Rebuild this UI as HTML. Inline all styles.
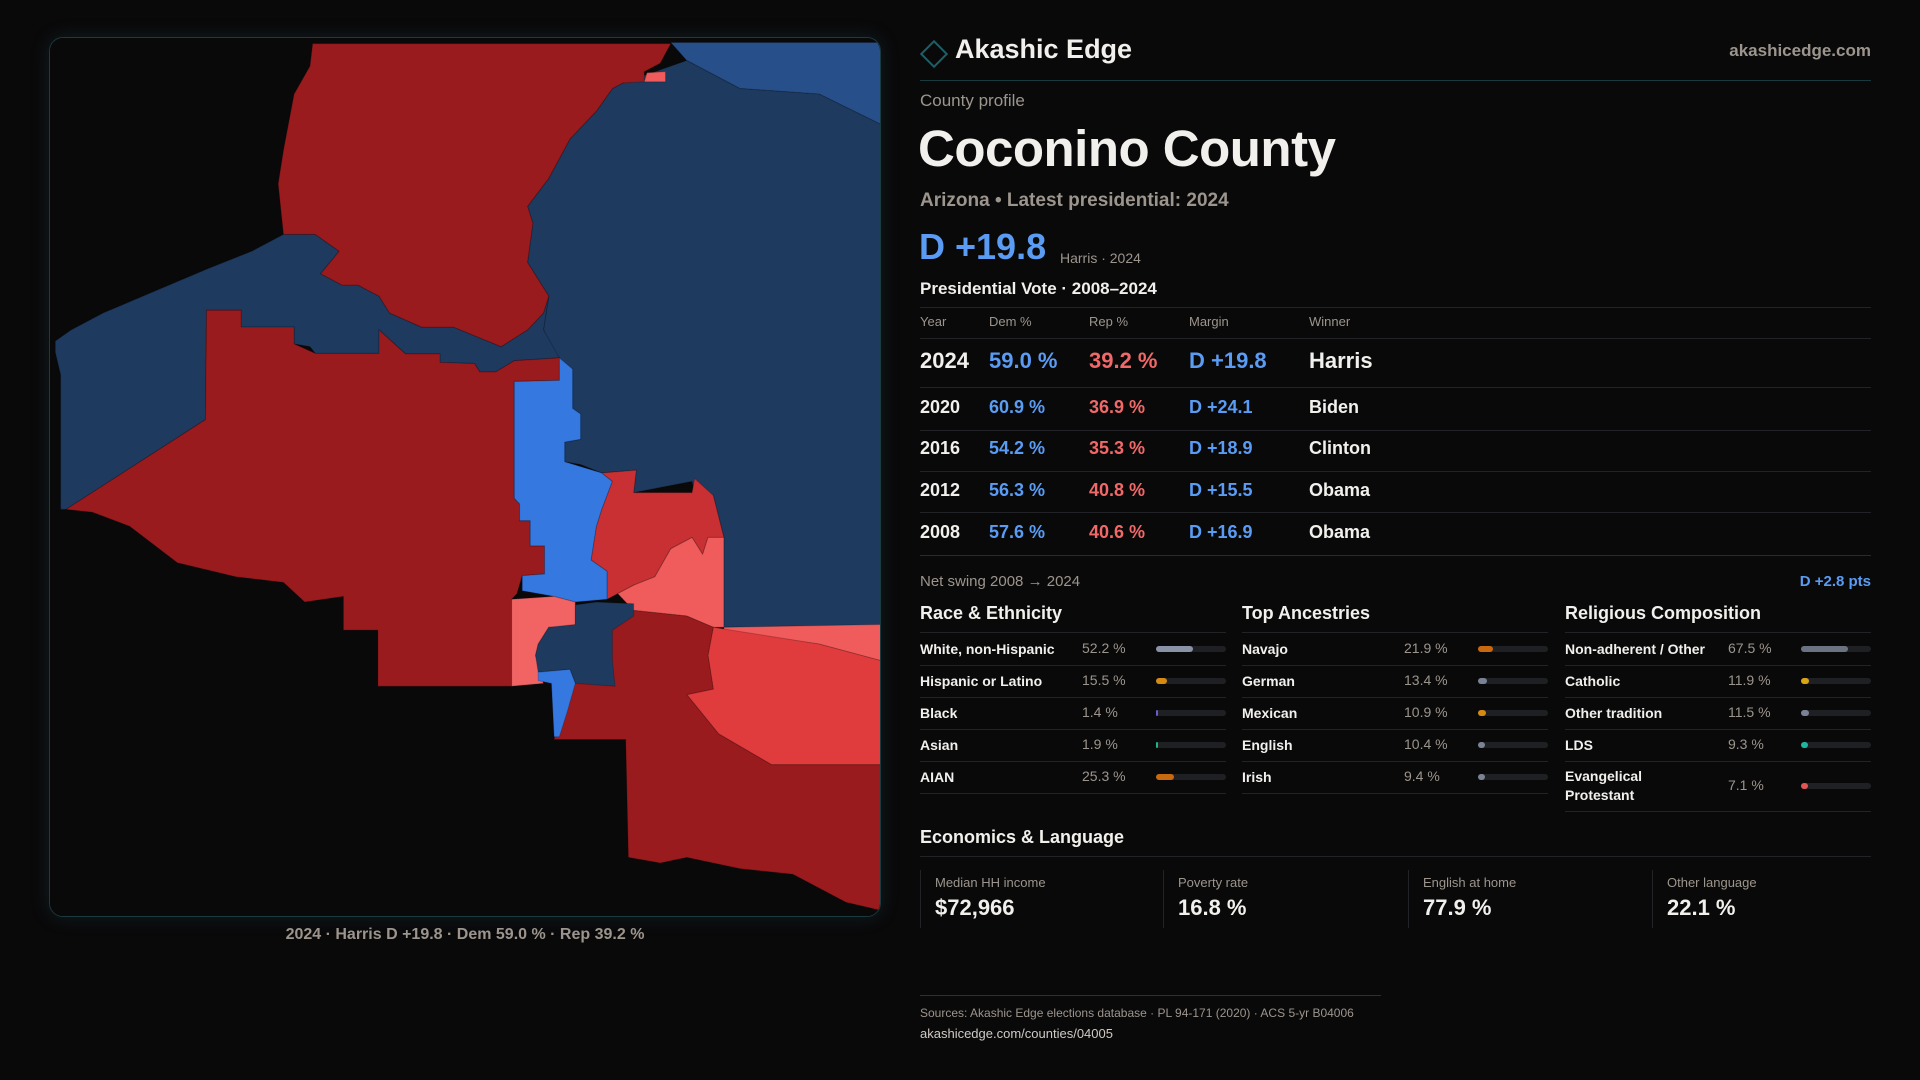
<!DOCTYPE html>
<html><head><meta charset="utf-8">
<style>
*{margin:0;padding:0;box-sizing:border-box}
body{width:1920px;height:1080px;background:#0a090a;font-family:"Liberation Sans",sans-serif;color:#f2f0ec;position:relative;overflow:hidden}
.a{position:absolute;white-space:nowrap}
.mut{color:#9c958d}
.blue{color:#5a9cf4}.red{color:#f06868}
.hl{position:absolute;height:1px;background:#222326}
#map{position:absolute;left:49px;top:37px;width:832px;height:880px;border:1px solid #1c3a40;border-radius:14px;overflow:hidden;box-shadow:0 0 18px rgba(30,90,100,.25)}
.bar{position:absolute;height:6px;border-radius:3px;background:#1f2024}
.fill{position:absolute;left:0;top:0;height:6px;border-radius:3px}
</style></head><body>
<div id="map">
<svg width="832" height="880" viewBox="0 0 1568 1568" preserveAspectRatio="none">
<rect width="1568" height="1568" fill="#0a090a"/>
<g stroke="rgba(0,0,0,0.18)" stroke-width="2">
<polygon fill="#27508a" points="1170,8 1568,8 1568,155 1450,100 1300,90 1200,40"/>
<polygon fill="#1e3a5f" points="1080,80 1200,40 1300,90 1450,100 1568,155 1568,1050 1270,1050 1270,890 1250,815 1215,810 1210,790 1100,810 1105,770 1040,775 1000,760 970,755 970,720 1000,715 1000,670 985,660 985,590 960,580 930,520 940,460 900,400 910,330 900,300 940,250 980,180 1030,130 1060,90"/>
<polygon fill="#1e3a5f" points="10,540 40,520 100,490 200,450 300,410 380,380 440,350 500,350 545,380 510,420 550,440 580,440 620,460 640,490 700,515 760,515 850,550 900,520 930,490 940,460 930,520 960,570 875,575 840,595 810,595 800,580 735,578 735,563 670,563 620,520 620,562 500,562 490,550 460,545 460,515 360,515 360,485 295,485 293,680 30,840 20,840 20,600 10,560"/>
<polygon fill="#9a1b1e" points="495,10 1170,10 1150,45 1120,60 1120,78 1080,80 1060,90 1030,130 980,180 940,250 900,300 910,330 900,400 940,460 930,490 900,520 850,550 760,515 700,515 640,490 620,460 580,440 550,440 510,420 545,380 500,350 440,350 430,260 440,200 460,100 490,50"/>
<polygon fill="#f05c5c" points="1120,78 1125,62 1160,60 1160,78"/>
<polygon fill="#9a1b1e" points="30,840 293,680 295,485 360,485 360,515 460,515 460,545 500,562 620,562 620,520 670,563 735,563 735,578 800,580 810,595 840,595 875,575 960,570 960,610 875,612 875,820 885,830 885,860 905,860 905,905 932,905 932,955 890,958 880,990 870,1000 870,1155 618,1155 618,1055 553,1055 553,995 480,1005 440,970 350,960 240,935 150,870 80,845"/>
<polygon fill="#3478e0" points="875,612 960,610 960,570 985,590 985,660 1000,670 1000,715 970,720 970,755 1040,775 1060,790 1040,840 1030,870 1020,930 1050,950 1050,1000 990,1005 950,995 890,985 890,958 932,955 932,905 905,905 905,860 885,860 885,830 875,820"/>
<polygon fill="#c83034" points="1060,790 1040,775 1105,770 1100,810 1210,810 1215,785 1250,815 1270,890 1240,890 1230,920 1210,890 1170,910 1140,960 1100,975 1070,990 1050,1000 1050,950 1020,930 1030,870 1040,840"/>
<polygon fill="#f05c5c" points="1270,890 1270,1050 1250,1050 1200,1030 1100,1020 1070,990 1100,975 1140,960 1170,910 1210,890 1230,920 1240,890"/>
<polygon fill="#f05c5c" points="1270,1050 1568,1045 1568,1110 1450,1080 1270,1055"/>
<polygon fill="#e03c3e" points="1250,1050 1450,1080 1568,1110 1568,1295 1360,1295 1260,1240 1200,1170 1250,1160 1240,1100"/>
<polygon fill="#f26464" points="870,1000 950,995 990,1005 990,1050 940,1050 920,1080 915,1100 930,1150 870,1155"/>
<polygon fill="#9a1b1e" points="990,1050 1100,1020 1200,1030 1250,1050 1240,1100 1250,1160 1200,1170 1260,1240 1360,1295 1568,1295 1568,1555 1500,1540 1400,1490 1300,1480 1200,1460 1150,1470 1090,1460 1085,1250 950,1250 975,1150 1000,1130"/>
<polygon fill="#1e3a5f" points="990,1010 1030,1005 1100,1008 1100,1030 1060,1055 1060,1110 1065,1155 990,1150 980,1125 920,1130 915,1100 920,1080 940,1050 990,1045"/>
<polygon fill="#3478e0" points="920,1130 980,1125 990,1150 975,1200 960,1245 950,1245 945,1150 920,1145"/>
</g></svg></div>
<div class="a mut" style="left:0;width:930px;text-align:center;top:926px;font-size:16px;font-weight:bold">2024 · Harris D +19.8 · Dem 59.0 % · Rep 39.2 %</div>

<div class="a" style="left:924px;top:44px;width:20px;height:20px;border:2px solid #1d5f66;transform:rotate(45deg)"></div>
<div class="a" style="left:955px;top:34px;font-size:27px;font-weight:bold">Akashic Edge</div>
<div class="a mut" style="right:49px;top:41px;font-size:17px;font-weight:bold">akashicedge.com</div>
<div class="hl" style="left:920px;width:951px;top:80px;background:#173a40"></div>
<div class="a mut" style="left:920px;top:91px;font-size:17px">County profile</div>
<div class="a" style="left:918px;top:119px;font-size:51px;font-weight:bold;letter-spacing:-0.5px">Coconino County</div>
<div class="a mut" style="left:920px;top:190px;font-size:19px;font-weight:bold">Arizona • Latest presidential: 2024</div>
<div class="a blue" style="left:919px;top:226px;font-size:36px;font-weight:bold">D +19.8</div>
<div class="a mut" style="left:1060px;top:250px;font-size:14px">Harris · 2024</div>
<div class="a" style="left:920px;top:279px;font-size:17px;font-weight:bold">Presidential Vote · 2008–2024</div>
<div class="hl" style="left:920px;width:951px;top:307px"></div>
<div id="vt"></div>
<div class="a mut" style="left:920px;top:573px;font-size:15px">Net swing 2008 → 2024</div>
<div class="a blue" style="right:49px;top:573px;font-size:15px;font-weight:bold">D +2.8 pts</div>
<div id="demo"></div>
<div class="a" style="left:920px;top:827px;font-size:18px;font-weight:bold">Economics &amp; Language</div>
<div class="hl" style="left:920px;width:951px;top:856px"></div>
<div id="econ"></div>
<div class="hl" style="left:920px;width:461px;top:995px;background:#173a40"></div>
<div class="a mut" style="left:920px;top:1006px;font-size:12px">Sources: Akashic Edge elections database · PL 94-171 (2020) · ACS 5-yr B04006</div>
<div class="a" style="left:920px;top:1026px;font-size:13px;color:#cfcac4">akashicedge.com/counties/04005</div>
<script>
const years=["2024","2020","2016","2012","2008"];
const demPct=[59.0,60.9,54.2,56.3,57.6];
const repPct=[39.2,36.9,35.3,40.8,40.6];
const margins=["D +19.8","D +24.1","D +18.9","D +15.5","D +16.9"];
const winners=["Harris","Biden","Clinton","Obama","Obama"];
const raceLabels=["White, non-Hispanic","Hispanic or Latino","Black","Asian","AIAN"];
const raceValues=[52.2,15.5,1.4,1.9,25.3];
const ancLabels=["Navajo","German","Mexican","English","Irish"];
const ancValues=[21.9,13.4,10.9,10.4,9.4];
const relLabels=["Non-adherent / Other","Catholic","Other tradition","LDS","Evangelical Protestant"];
const relValues=[67.5,11.9,11.5,9.3,7.1];
const econLabels=["Median HH income","Poverty rate","English at home","Other language"];
const econValues=["$72,966","16.8 %","77.9 %","22.1 %"];

function mk(parent,cls,style,text){const d=document.createElement('div');d.className=cls;d.style.cssText=style;if(text!==undefined)d.textContent=text;parent.appendChild(d);return d;}
const vt=document.getElementById('vt');
const cols=[920,989,1089,1189,1309];
["Year","Dem %","Rep %","Margin","Winner"].forEach((h,i)=>{
  const e=mk(vt,'a mut',`left:${cols[i]}px;top:314px;font-size:13px`,h);
  
  
});
let l=mk(vt,'hl','left:920px;width:951px;top:338px');


const rowY=[361,408,449,491,533];
const lineY=[387,430,471,512,555];
years.forEach((y,i)=>{
  const fs=i===0?22:18;
  const top=rowY[i]-fs*0.6;
  const vals=[y,demPct[i].toFixed(1)+" %",repPct[i].toFixed(1)+" %",margins[i],winners[i]];
  const cl=['','blue','red','blue',''];
  vals.forEach((v,j)=>{
    const e=mk(vt,'a '+cl[j],`left:${cols[j]}px;top:${top}px;font-size:${fs}px;font-weight:bold`,v);
    
    
  });
  const r=mk(vt,'hl',`left:920px;width:951px;top:${lineY[i]}px;${i===4?'background:#2a2b2e':''}`);
  
  
});
const demo=document.getElementById('demo');
const sec=[["Race & Ethnicity",raceLabels,raceValues,["#8a93a6","#d68a12","#6a5ad0","#1fb58a","#c8690f"]],
           ["Top Ancestries",ancLabels,ancValues,["#c8690f","#7a8394","#d68a12","#7a8394","#7a8394"]],
           ["Religious Composition",relLabels,relValues,["#6b7282","#d9a514","#7a8394","#1fb5a0","#e05555"]]];
const sx=[920,1242,1565];
sec.forEach((s,k)=>{
  const x=sx[k];
  const h=mk(demo,'a',`left:${x}px;top:603px;font-size:18px;font-weight:bold`,s[0]);
  
  
  const r0=mk(demo,'hl',`left:${x}px;width:306px;top:632px`);
  
  
  let y=633;
  s[1].forEach((lab,i)=>{
    const tall=lab==="Evangelical Protestant";
    const rh=tall?50:32;
    const cy=y+rh/2;
    const le=mk(demo,'a',`left:${x}px;top:${tall?cy-19:cy-9}px;font-size:14px;font-weight:bold;white-space:normal;width:${tall?120:160}px;line-height:19px`,lab);
    
    
    const ve=mk(demo,'a mut',`left:${x+(k===2?163:162)}px;top:${cy-9}px;font-size:14px`,s[2][i].toFixed(1)+" %");
    
    
    const b=mk(demo,'bar',`left:${x+236}px;top:${cy-3}px;width:70px`);
    
    
    const w=Math.max(s[2][i]/100*70,s[2][i]<3?2:7);
    const f=mk(b,'fill',`width:${w}px;background:${s[3][i]}`);
    
    
    y+=rh;
    const rr=mk(demo,'hl',`left:${x}px;width:306px;top:${y}px`);
    
    
  });
});
const econ=document.getElementById('econ');
const ex=[920,1163,1408,1652];
econLabels.forEach((lab,i)=>{
  const c=mk(econ,'a',`left:${ex[i]}px;top:870px;height:58px;border-left:1px solid #222326;padding-left:14px`);
  
  
  const a=mk(c,'mut','font-size:13px;margin-top:5px',lab);
  
  
  const v=mk(c,'','font-size:22px;font-weight:bold;margin-top:5px',econValues[i]);
  
  
});
</script>
</body></html>
